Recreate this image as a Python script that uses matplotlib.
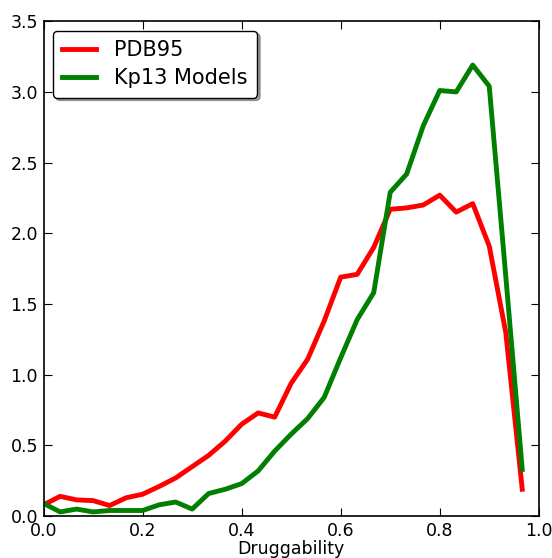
import numpy as np
import matplotlib
matplotlib.use('Agg')
from matplotlib import pyplot as plt

# bin centres (30 bins on [0,1))
x = np.arange(30) / 30.0

pdb95 = [0.08, 0.14, 0.115, 0.11, 0.075, 0.13, 0.155, 0.21, 0.27, 0.35,
         0.43, 0.53, 0.65, 0.73, 0.70, 0.94, 1.11, 1.38, 1.69, 1.71,
         1.90, 2.17, 2.18, 2.20, 2.27, 2.15, 2.21, 1.91, 1.30, 0.19]

kp13 = [0.09, 0.03, 0.05, 0.03, 0.04, 0.04, 0.04, 0.08, 0.10, 0.05,
        0.16, 0.19, 0.23, 0.32, 0.46, 0.58, 0.69, 0.84, 1.12, 1.39,
        1.58, 2.29, 2.42, 2.76, 3.01, 3.00, 3.19, 3.04, 1.70, 0.33]

fig = plt.figure(figsize=(5.52, 5.58), dpi=100)
ax = fig.add_axes([0.079, 0.075, 0.897, 0.887])

ax.plot(x, pdb95, color='#ff0000', lw=3.5, label='PDB95')
ax.plot(x, kp13, color='#007f00', lw=3.5, label='Kp13 Models')

ax.set_xlim(0, 1)
ax.set_ylim(0, 3.5)
ax.set_xticks(np.arange(0, 1.01, 0.2))
ax.set_yticks(np.arange(0, 3.51, 0.5))
ax.tick_params(direction='in', top=True, right=True, length=6, labelsize=12.5, pad=4)
ax.set_xlabel('Druggability', fontsize=12.5, labelpad=0)
for s in ax.spines.values():
    s.set_linewidth(1.2)

leg = ax.legend(loc='upper left', fontsize=15, fancybox=True, shadow=True,
                handlelength=1.6, handletextpad=0.9, borderaxespad=0.45,
                labelspacing=0.4, borderpad=0.45)
leg.get_frame().set_edgecolor('black')
leg.get_frame().set_linewidth(1.0)

plt.savefig('out.png', dpi=100)
